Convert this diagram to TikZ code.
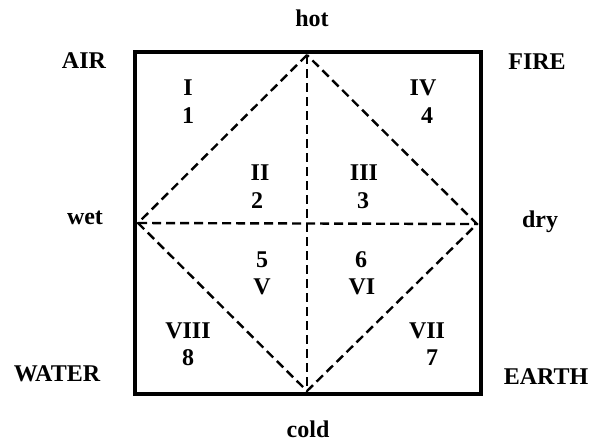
\documentclass[tikz,border=0pt]{standalone}
\usepackage{fontspec}
\setmainfont{Liberation Serif}
\begin{document}
\begin{tikzpicture}[x=1pt,y=-1pt,
  lbl/.style={font=\fontsize{24}{27}\selectfont\bfseries, inner sep=0pt, anchor=center},
  dsh/.style={line width=2.4pt, dash pattern=on 9pt off 5pt},
  frame/.style={line width=3.2pt}]
\useasboundingbox (0,0) rectangle (593,442);
\draw[frame] (135,52) rectangle (481,394);
\coordinate (T) at (307,55);
\coordinate (L) at (138,223);
\coordinate (R) at (477,224);
\coordinate (B) at (307,391);
\draw[dsh] (T) -- (L) -- (B) -- (R) -- cycle;
\draw[dsh] (T) -- (B);
\draw[dsh] (L) -- (R);
% outside labels
\node[lbl] (hot) at (312,18) {hot};
\node[lbl] (cold) at (308,429) {cold};
\node[lbl] (wet) at (85,218) {wet};
\node[lbl] (dry) at (540,222) {dry};
\node[lbl] (air) at (84,61) {AIR};
\node[lbl] (fire) at (537,62) {FIRE};
\node[lbl] (water) at (57,374) {WATER};
\node[lbl] (earth) at (546,377) {EARTH};
% regions
\node[lbl] (r1a) at (188,88) {I};
\node[lbl] (r1b) at (188,116) {1};
\node[lbl] (r4a) at (423,88) {IV};
\node[lbl] (r4b) at (427,116) {4};
\node[lbl] (r2a) at (260,173) {II};
\node[lbl] (r2b) at (257,201) {2};
\node[lbl] (r3a) at (364,173) {III};
\node[lbl] (r3b) at (363,201) {3};
\node[lbl] (r5a) at (262,260) {5};
\node[lbl] (r5b) at (262,287) {V};
\node[lbl] (r6a) at (361,260) {6};
\node[lbl] (r6b) at (362,287) {VI};
\node[lbl] (r8a) at (188,331) {VIII};
\node[lbl] (r8b) at (188,358) {8};
\node[lbl] (r7a) at (427,331) {VII};
\node[lbl] (r7b) at (432,358) {7};
\end{tikzpicture}
\end{document}
